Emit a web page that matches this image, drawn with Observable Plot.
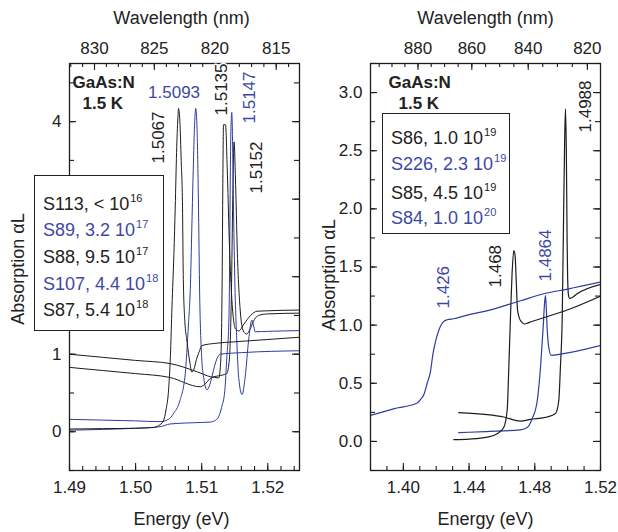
<!DOCTYPE html>
<html><head><meta charset="utf-8">
<script src="https://cdn.jsdelivr.net/npm/d3@7"></script>
<script src="https://cdn.jsdelivr.net/npm/@observablehq/plot@0.6"></script>
<style>
body{margin:0;background:#fff;}
#wrap{position:relative;width:618px;height:532px;font-family:"Liberation Sans",Arial,Helvetica,sans-serif;color:#222;overflow:hidden;}
.panel{position:absolute;top:0;}
.legend{position:absolute;background:#fff;border:1px solid #222;box-sizing:border-box;font-size:18px;line-height:1;z-index:2;}
.legend div{position:absolute;left:8px;white-space:nowrap;}
.legend sup{font-size:11px;vertical-align:baseline;position:relative;top:-8px;margin-left:1px;}
</style></head><body><div id="wrap"></div>
<script>
const hc = 1239.84; // eV·nm
const BLACK = "#1c1c1c", BLUE = "#2f3b9e", TEXTBLUE = "#3d48a6", TEXT = "#222";

// ---------- Left panel (low N content) : [energy eV, absorption αL] ----------
const s113 = [[1.4900,0.83],[1.4950,0.79],[1.5000,0.75],[1.5052,0.70],[1.5098,0.58],[1.5103,0.60],[1.5115,0.70],[1.5125,0.72],[1.5138,0.75],[1.5142,0.95],[1.5145,1.8],[1.5147,3.0],[1.5149,3.74],[1.5151,3.3],[1.5154,2.3],[1.5158,1.6],[1.5163,1.3],[1.5168,1.26],[1.5173,1.32],[1.5178,1.42],[1.5186,1.50],[1.5200,1.52],[1.5250,1.53]];
const s89 = [[1.4900,0.02],[1.4950,0.03],[1.5000,0.045],[1.5037,0.065],[1.5052,0.10],[1.5100,0.12],[1.5113,0.125],[1.5123,0.16],[1.5130,0.31],[1.5135,0.53],[1.5138,0.96],[1.5141,1.39],[1.5142,1.9],[1.5143,3.0],[1.5144,3.8],[1.51455,4.12],[1.5147,3.6],[1.5148,2.98],[1.5150,2.0],[1.5153,1.2],[1.5156,0.7],[1.5161,0.48],[1.5166,0.72],[1.5171,1.18],[1.5176,1.44],[1.5179,1.35],[1.5181,1.29],[1.5200,1.295],[1.5250,1.305]];
const s88 = [[1.4900,1.00],[1.4950,0.96],[1.5000,0.92],[1.5052,0.88],[1.5094,0.77],[1.5113,0.71],[1.5126,0.695],[1.5129,0.95],[1.5131,2.0],[1.5132,3.2],[1.5133,3.96],[1.5136,3.96],[1.5139,3.3],[1.5142,2.4],[1.5145,1.8],[1.5151,1.33],[1.5156,1.30],[1.5164,1.39],[1.5174,1.50],[1.5184,1.555],[1.5250,1.57]];
const s107 = [[1.4900,0.16],[1.4950,0.15],[1.5000,0.14],[1.5037,0.13],[1.5050,0.16],[1.5057,0.23],[1.5067,0.40],[1.5075,0.74],[1.5080,1.39],[1.5083,1.9],[1.5085,2.6],[1.5087,3.3],[1.5089,3.9],[1.5091,4.17],[1.5093,3.9],[1.5095,3.0],[1.5097,1.75],[1.5100,0.96],[1.5103,0.70],[1.5108,0.54],[1.5112,0.60],[1.5116,0.73],[1.5123,0.94],[1.5128,1.00],[1.5160,1.02],[1.5250,1.045]];
const s87 = [[1.4900,0.035],[1.4950,0.04],[1.5000,0.045],[1.5027,0.055],[1.5035,0.08],[1.5042,0.14],[1.5046,0.28],[1.5050,0.55],[1.5053,1.05],[1.5055,1.6],[1.5058,2.3],[1.5060,2.9],[1.5062,3.6],[1.5064,4.05],[1.5065,4.17],[1.5067,4.0],[1.5069,3.5],[1.5071,2.9],[1.5072,2.1],[1.5074,1.5],[1.5078,1.15],[1.5082,0.9],[1.5085,0.77],[1.5088,0.8],[1.5092,0.93],[1.5097,1.05],[1.5100,1.11],[1.5120,1.14],[1.5150,1.16],[1.5200,1.19],[1.5250,1.22]];

const leftSamples   = ["S113", "S89", "S88", "S107", "S87"];
const leftMantissa  = ["<", "3.2", "9.5", "4.4", "5.4"];
const leftExponent  = ["16", "17", "17", "18", "18"];
const leftColors    = [BLACK, BLUE, BLACK, BLUE, BLACK];
const leftEnergyTicks = [1.49, 1.50, 1.51, 1.52];
const leftAbsTicks = [0, 1, 2, 3, 4];
const leftAbsLabels = [0, 1, 4];          // 2 and 3 are hidden behind the legend box
const leftWavelengthTicks = [830, 825, 820, 815];
const leftPeakLabels = ["1.5067", "1.5093", "1.5135", "1.5147", "1.5152"];

// ---------- Right panel (high N content) ----------
const s86 = [[1.4337,0.247],[1.4510,0.23],[1.4611,0.21],[1.4713,0.175],[1.4774,0.19],[1.4875,0.21],[1.4926,0.24],[1.4946,0.35],[1.4956,0.64],[1.4967,1.07],[1.4975,1.9],[1.4982,2.6],[1.4987,2.86],[1.4992,2.5],[1.4997,1.7],[1.5000,1.4],[1.5005,1.26],[1.5012,1.23],[1.5030,1.24],[1.5058,1.27],[1.5200,1.35]];
const s226 = [[1.4337,0.075],[1.4500,0.085],[1.4713,0.10],[1.4754,0.12],[1.4784,0.195],[1.4815,0.35],[1.4835,0.64],[1.4851,0.98],[1.4859,1.18],[1.4865,1.255],[1.4870,1.15],[1.4875,0.98],[1.4885,0.81],[1.4900,0.74],[1.4956,0.75],[1.5200,0.825]];
const s85 = [[1.4307,0.015],[1.4400,0.02],[1.4510,0.037],[1.4571,0.066],[1.4611,0.12],[1.4632,0.27],[1.4642,0.64],[1.4652,1.07],[1.4662,1.45],[1.4672,1.64],[1.4680,1.6],[1.4688,1.35],[1.4695,1.13],[1.4713,1.04],[1.4740,1.01],[1.4760,1.02],[1.4835,1.055],[1.4997,1.13],[1.5200,1.25]];
const s84 = [[1.3800,0.224],[1.3940,0.28],[1.4084,0.33],[1.4104,0.36],[1.4124,0.40],[1.4145,0.50],[1.4165,0.60],[1.4180,0.75],[1.4196,0.86],[1.4212,0.94],[1.4226,0.99],[1.4245,1.03],[1.4267,1.046],[1.4307,1.055],[1.4400,1.09],[1.4500,1.12],[1.4713,1.21],[1.4855,1.27],[1.5000,1.31],[1.5200,1.37]];

const rightSamples  = ["S86", "S226", "S85", "S84"];
const rightMantissa = ["1.0", "2.3", "4.5", "1.0"];
const rightExponent = ["19", "19", "19", "20"];
const rightColors   = [BLACK, BLUE, BLACK, BLUE];
const rightEnergyTicks = [1.40, 1.44, 1.48, 1.52];
const rightAbsTicks = [0, 0.5, 1.0, 1.5, 2.0, 2.5, 3.0];
const rightWavelengthTicks = [880, 860, 840, 820];
const rightPeakLabels = ["1.426", "1.468", "1.4864", "1.4988"];

const W = 309, H = 532, MT = 63, MB = 62;

function panel(cfg) {
  const pw = W - cfg.mL - cfg.mR, ph = H - MT - MB;
  const lw = cfg.lineWidth || 1;
  const marks = [];
  cfg.curves.forEach(([data, color]) => marks.push(
    Plot.line(data, {x: d => d[0], y: d => d[1], stroke: color, strokeWidth: lw, curve: "monotone-x", clip: true})
  ));
  marks.push(Plot.frame({stroke: BLACK, strokeWidth: 1.3}));
  const [e0, e1] = cfg.xDomain, [a0, a1] = cfg.yDomain;
  const eMinor = d3.range(Math.ceil(e0 / cfg.eMinor - 1e-6), Math.floor(e1 / cfg.eMinor + 1e-6) + 1).map(k => k * cfg.eMinor);
  const aMinor = d3.range(Math.ceil(a0 / cfg.aMinor - 1e-6), Math.floor(a1 / cfg.aMinor + 1e-6) + 1).map(k => k * cfg.aMinor);
  const wMinor = d3.range(Math.ceil(hc / e1), Math.floor(hc / e0) + 1).filter(w => w % cfg.wMinor === 0);
  const tk = {stroke: BLACK, strokeWidth: 1.1};
  // energy ticks (bottom, inward)
  marks.push(Plot.ruleX(eMinor, {x: d => d, insetTop: ph - 4, ...tk}));
  marks.push(Plot.ruleX(cfg.eTicks, {x: d => d, insetTop: ph - 7, ...tk}));
  // wavelength ticks (top, inward)
  marks.push(Plot.ruleX(wMinor, {x: d => hc / d, insetBottom: ph - 4, ...tk}));
  marks.push(Plot.ruleX(cfg.wTicks, {x: d => hc / d, insetBottom: ph - 7, ...tk}));
  // absorption ticks left and right
  marks.push(Plot.ruleY(aMinor, {y: d => d, insetRight: pw - 5, ...tk}));
  marks.push(Plot.ruleY(aMinor, {y: d => d, insetLeft: pw - 5, ...tk}));
  marks.push(Plot.ruleY(cfg.aTicks, {y: d => d, insetRight: pw - 7, ...tk}));
  marks.push(Plot.ruleY(cfg.aTicks, {y: d => d, insetLeft: pw - 7, ...tk}));
  // tick labels
  marks.push(Plot.axisX(cfg.eTicks, {anchor: "bottom", tickSize: 0, tickPadding: 10, tickFormat: d3.format(".2f"), label: null, fill: TEXT}));
  marks.push(Plot.axisX(cfg.wTicks.map(w => hc / w), {anchor: "top", tickSize: 0, tickPadding: 10, tickFormat: e => String(Math.round(hc / e)), label: null, fill: TEXT}));
  marks.push(Plot.axisY(cfg.aLabels, {anchor: "left", tickSize: 0, tickPadding: 8, tickFormat: cfg.aFormat, label: null, fill: TEXT}));
  // axis titles
  marks.push(Plot.text(["Wavelength (nm)"], {text: d => d, frameAnchor: "top", dx: cfg.titleDx, dy: -39.5, lineAnchor: "bottom", textAnchor: "middle", fontSize: 18, fill: TEXT}));
  marks.push(Plot.text(["Energy (eV)"], {text: d => d, frameAnchor: "bottom", dx: cfg.titleDx, dy: 54, lineAnchor: "bottom", textAnchor: "middle", fontSize: 18, fill: TEXT}));
  marks.push(Plot.text(["Absorption \u03b1L"], {text: d => d, frameAnchor: "left", dx: cfg.yTitleDx, dy: cfg.yTitleDy, rotate: -90, textAnchor: "middle", lineAnchor: "middle", fontSize: 18, fill: TEXT}));
  // sample / temperature
  marks.push(Plot.text(["GaAs:N"], {text: d => d, frameAnchor: "top-left", dx: cfg.gDx, dy: 24.5, lineAnchor: "bottom", textAnchor: "start", fontWeight: "bold", fontSize: 17, fill: TEXT}));
  marks.push(Plot.text(["1.5 K"], {text: d => d, frameAnchor: "top-left", dx: cfg.gDx + 10, dy: 45.5, lineAnchor: "bottom", textAnchor: "start", fontWeight: "bold", fontSize: 17, fill: TEXT}));
  // peak labels
  cfg.peaks.forEach((p, i) => {
    const o = cfg.peakOffsets[i];
    marks.push(Plot.text([p], {x: d => +d, text: d => d, frameAnchor: "top", dx: o.dx, dy: o.dy,
      rotate: o.rot ? -90 : 0, textAnchor: o.rot ? "start" : "middle", lineAnchor: "middle", fontSize: 17,
      fill: o.color, stroke: "white", strokeWidth: 3, paintOrder: "stroke"}));
  });
  const svg = Plot.plot({
    width: W, height: H, marginLeft: cfg.mL, marginRight: cfg.mR, marginTop: MT, marginBottom: MB,
    x: {domain: cfg.xDomain}, y: {domain: cfg.yDomain},
    style: {fontFamily: '"Liberation Sans", Arial, Helvetica, sans-serif', fontSize: "17px", background: "transparent", color: TEXT, overflow: "visible"},
    marks
  });
  return svg;
}

function legend(left, top, width, height, samples, mantissa, exponent, colors, rowTops) {
  const box = document.createElement("div");
  box.className = "legend";
  Object.assign(box.style, {left: left + "px", top: top + "px", width: width + "px", height: height + "px"});
  samples.forEach((s, i) => {
    const row = document.createElement("div");
    row.style.top = rowTops[i] + "px";
    row.style.color = colors[i] === BLUE ? TEXTBLUE : TEXT;
    row.innerHTML = `${s}, ${mantissa[i]} 10<sup>${exponent[i]}</sup>`;
    box.appendChild(row);
  });
  return box;
}

const wrap = document.getElementById("wrap");

const left = panel({
  mL: 69, mR: 10, xDomain: [1.49, 1.5248], yDomain: [-0.5, 4.75],
  curves: [[s113, BLACK], [s89, BLUE], [s88, BLACK], [s107, BLUE], [s87, BLACK]],
  eTicks: leftEnergyTicks, eMinor: 0.002, aTicks: leftAbsTicks, aLabels: leftAbsLabels, aMinor: 0.5, aFormat: d3.format("d"),
  wTicks: leftWavelengthTicks, wMinor: 1, titleDx: -3, yTitleDx: -51, yTitleDy: 2, gDx: 3,
  peaks: leftPeakLabels,
  peakOffsets: [
    {dx: -21, dy: 100, rot: true, color: TEXT},
    {dx: -23, dy: 29, rot: false, color: TEXTBLUE},
    {dx: -3.5, dy: 52, rot: true, color: TEXT},
    {dx: 17, dy: 60, rot: true, color: TEXTBLUE},
    {dx: 20, dy: 130, rot: true, color: TEXT}
  ]
});
left.classList.add("panel");
left.style.left = "0px";
wrap.appendChild(left);

const right = panel({
  mL: 61, mR: 18, xDomain: [1.38, 1.52], yDomain: [-0.25, 3.25], lineWidth: 1.2,
  curves: [[s86, BLACK], [s226, BLUE], [s85, BLACK], [s84, BLUE]],
  eTicks: rightEnergyTicks, eMinor: 0.01, aTicks: rightAbsTicks, aLabels: rightAbsTicks, aMinor: 0.25, aFormat: d3.format(".1f"),
  wTicks: rightWavelengthTicks, wMinor: 5, titleDx: 0, yTitleDx: -41.5, yTitleDy: 8, gDx: 18,
  peaks: rightPeakLabels,
  peakOffsets: [
    {dx: -3, dy: 245, rot: true, color: TEXTBLUE},
    {dx: -19.5, dy: 224, rot: true, color: TEXT},
    {dx: 0, dy: 218, rot: true, color: TEXTBLUE},
    {dx: 19.5, dy: 69, rot: true, color: TEXT}
  ]
});
right.classList.add("panel");
right.style.left = "309px";
wrap.appendChild(right);

wrap.appendChild(legend(34, 175, 130, 156, leftSamples, leftMantissa, leftExponent, leftColors, [18.5, 45, 72, 98.5, 125]));
wrap.appendChild(legend(382, 113, 128, 121, rightSamples, rightMantissa, rightExponent, rightColors, [14.5, 41, 69.5, 95]));
</script></body></html>
